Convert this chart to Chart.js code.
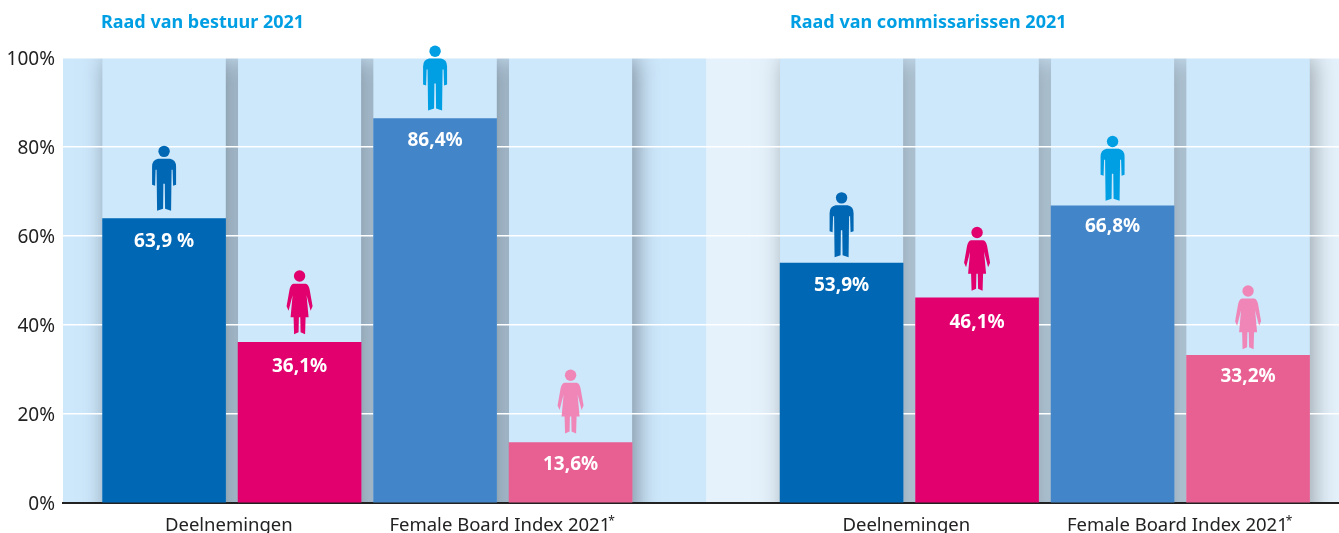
<!DOCTYPE html>
<html>
<head>
<meta charset="utf-8">
<style>
  html, body { margin: 0; padding: 0; background: #fff; overflow: hidden; }
  #wrap { width: 1339px; height: 533px; }
</style>
<script src="https://cdn.jsdelivr.net/npm/chart.js@4/dist/chart.umd.min.js"></script>
</head>
<body>
<div id="wrap"><canvas id="myChart" width="1339" height="533"></canvas></div>
<script>
const categories = [
  "Deelnemingen man", "Deelnemingen vrouw", "FBI man", "FBI vrouw",
  "Deelnemingen man", "Deelnemingen vrouw", "FBI man", "FBI vrouw"
];
const values = [63.9, 36.1, 86.4, 13.6, 53.9, 46.1, 66.8, 33.2];
const valueLabels = ["63,9 %", "36,1%", "86,4%", "13,6%", "53,9%", "46,1%", "66,8%", "33,2%"];
const groupLabels = ["Deelnemingen", "Female Board Index 2021", "Deelnemingen", "Female Board Index 2021"];
const yTicks = [0, 20, 40, 60, 80, 100];
const titles = ["Raad van bestuur 2021", "Raad van commissarissen 2021"];

const barColors = ["#0067b4", "#e2006f", "#4285c8", "#e85f92", "#0067b4", "#e2006f", "#4285c8", "#e85f92"];
const iconColors = ["#0067b4", "#e2006f", "#009fe3", "#f086b8", "#0067b4", "#e2006f", "#009fe3", "#f086b8"];
const iconGaps = [7, 7, 7, 8, 5, 6, 4, 5];
const labelGaps = [23, 24, 22, 22, 22, 25, 21, 21];
const font = "'Noto Sans', sans-serif";

// second board sits one empty slot further along the axis
const slot = i => (i < 4 ? i + 1 : i + 2);
const groupSlot = i => (i < 2 ? 1.5 + i * 2 : 6.5 + (i - 2) * 2);

function man(c, x, y) {
  c.beginPath();
  c.arc(x, y - 60.3, 5.7, 0, Math.PI * 2);
  c.fill();
  c.beginPath();
  c.moveTo(x - 6, y - 53);
  c.lineTo(x + 6, y - 53);
  c.quadraticCurveTo(x + 12, y - 52, x + 12, y - 45);
  c.lineTo(x + 12, y - 27);
  c.lineTo(x + 9, y - 26);
  c.lineTo(x + 8.5, y - 42);
  c.lineTo(x + 7.5, y - 42);
  c.lineTo(x + 7, y - 1);
  c.lineTo(x + 1, y - 3);
  c.lineTo(x + 0.7, y - 28);
  c.lineTo(x - 0.7, y - 28);
  c.lineTo(x - 1, y - 3);
  c.lineTo(x - 7, y - 1);
  c.lineTo(x - 7.5, y - 42);
  c.lineTo(x - 8.5, y - 42);
  c.lineTo(x - 9, y - 26);
  c.lineTo(x - 12, y - 27);
  c.lineTo(x - 12, y - 45);
  c.quadraticCurveTo(x - 12, y - 52, x - 6, y - 53);
  c.fill();
}

function woman(c, x, y) {
  c.beginPath();
  c.arc(x, y - 59.3, 5.7, 0, Math.PI * 2);
  c.fill();
  c.beginPath();
  c.moveTo(x - 6, y - 51.7);
  c.lineTo(x + 6, y - 51.7);
  c.quadraticCurveTo(x + 9, y - 51, x + 10, y - 46);
  c.lineTo(x + 13, y - 29);
  c.lineTo(x + 11, y - 24.5);
  c.lineTo(x + 7, y - 40);
  c.lineTo(x + 9, y - 18);
  c.lineTo(x + 6, y - 18);
  c.lineTo(x + 5.5, y - 1);
  c.lineTo(x + 1, y - 3);
  c.lineTo(x + 0.7, y - 18);
  c.lineTo(x - 0.7, y - 18);
  c.lineTo(x - 1, y - 3);
  c.lineTo(x - 5.5, y - 1);
  c.lineTo(x - 6, y - 18);
  c.lineTo(x - 9, y - 18);
  c.lineTo(x - 7, y - 40);
  c.lineTo(x - 11, y - 24.5);
  c.lineTo(x - 13, y - 29);
  c.lineTo(x - 10, y - 46);
  c.quadraticCurveTo(x - 9, y - 51, x - 6, y - 51.7);
  c.fill();
}

// light panels with soft shadow behind the grid lines
const backdrop = {
  id: "backdrop",
  beforeDraw(chart) {
    const c = chart.ctx, a = chart.chartArea, sx = chart.scales.x;
    const w = 123, h = a.bottom - a.top;
    const lefts = values.map((v, i) => sx.getPixelForValue(slot(i)) - w / 2);
    c.save();
    c.fillStyle = "#cde7fb";
    c.fillRect(a.left, a.top, a.right - a.left, h);
    c.fillStyle = "#e5f2fc";
    c.fillRect(lefts[3] + w + 74, a.top, 74, h);
    c.fillRect(lefts[7] + w, a.top, a.right - lefts[7] - w, h);
    c.beginPath();
    c.rect(a.left, a.top, a.right - a.left, h);
    c.clip();
    lefts.forEach((x, i) => {
      c.shadowColor = i < 4 ? "rgba(70,80,90,0.62)" : "rgba(80,85,90,0.5)";
      c.shadowBlur = 22;
      c.shadowOffsetX = 4;
      c.fillStyle = "#cde7fb";
      c.fillRect(x, a.top, w, h + 60);
    });
    c.shadowColor = "transparent";
    c.shadowBlur = 0;
    c.shadowOffsetX = 0;
    c.fillStyle = "#cde7fb";
    lefts.forEach(x => c.fillRect(x, a.top, w, h));
    c.restore();
  }
};

const overlays = {
  id: "overlays",
  afterDraw(chart) {
    const c = chart.ctx, sx = chart.scales.x, sy = chart.scales.y;
    c.save();
    values.forEach((v, i) => {
      const x = sx.getPixelForValue(slot(i)), top = sy.getPixelForValue(v);
      c.fillStyle = iconColors[i];
      (i % 2 ? woman : man)(c, x, top - iconGaps[i]);
      c.fillStyle = "#fff";
      c.font = "bold 19px " + font;
      c.textAlign = "center";
      c.textBaseline = "middle";
      c.fillText(valueLabels[i], x, top + labelGaps[i]);
    });
    c.fillStyle = "#009fe3";
    c.font = "bold 18px " + font;
    c.textAlign = "left";
    c.textBaseline = "middle";
    c.fillText(titles[0], 101, 23);
    c.fillText(titles[1], 790, 23);
    // footnote star after the index labels
    c.font = "18.5px " + font;
    const half = c.measureText(groupLabels[1]).width / 2;
    c.fillStyle = "#222";
    c.font = "12px " + font;
    [1, 3].forEach(i => c.fillText("*", sx.getPixelForValue(groupSlot(i)) + half - 5, 522));
    c.restore();
  }
};

new Chart(document.getElementById("myChart").getContext("2d"), {
  type: "bar",
  data: {
    labels: categories,
    datasets: [{
      data: values.map((v, i) => ({ x: slot(i), y: v })),
      backgroundColor: barColors,
      borderWidth: 0,
      barThickness: 123
    }]
  },
  options: {
    responsive: false,
    animation: false,
    layout: { padding: { top: 58, right: 0, left: 0, bottom: 0 } },
    plugins: { legend: { display: false }, tooltip: { enabled: false }, title: { display: false } },
    scales: {
      x: {
        type: "linear",
        offset: false,
        min: 0.254,
        max: 9.671,
        afterFit(s) { s.height = 30; },
        afterBuildTicks(s) { s.ticks = groupLabels.map((l, i) => ({ value: groupSlot(i) })); },
        grid: { display: false, offset: false },
        border: { display: true, color: "#222", width: 2 },
        ticks: {
          autoSkip: false,
          maxRotation: 0,
          padding: 4,
          labelOffset: -3,
          color: "#222",
          font: { family: font, size: 18.5 },
          callback: (v, i) => groupLabels[i]
        }
      },
      y: {
        min: 0,
        max: 100,
        afterFit(s) { s.width = 63; },
        afterBuildTicks(s) { s.ticks = yTicks.map(v => ({ value: v })); },
        grid: { color: "#fff", lineWidth: 1.5, drawTicks: false },
        border: { display: false },
        ticks: {
          padding: 8,
          labelOffset: 2,
          color: "#222",
          font: { family: font, size: 19 },
          callback: v => v + "%"
        }
      }
    }
  },
  plugins: [backdrop, overlays]
});
</script>
</body>
</html>
